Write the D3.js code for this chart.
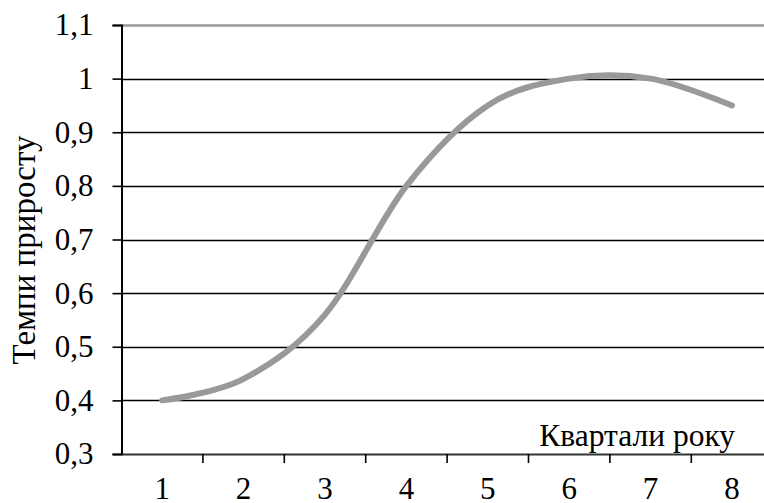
<!DOCTYPE html>
<html><head><meta charset="utf-8">
<script src="https://cdnjs.cloudflare.com/ajax/libs/d3/7.8.5/d3.min.js"></script>
<style>body{margin:0;background:#fff}svg{display:block}text{font-family:"Liberation Serif","Times New Roman",serif;fill:#000}</style>
</head><body><svg id="c" width="764" height="503"></svg>
<script>
const categories = ["1","2","3","4","5","6","7","8"];
const values = [0.40, 0.44, 0.56, 0.80, 0.95, 1.00, 1.00, 0.95];
const yTicks = [0.3,0.4,0.5,0.6,0.7,0.8,0.9,1.0,1.1];
const yTitle = "Темпи приросту";
const xTitle = "Квартали року";

(function(){
const svg = d3.select("#c");
const mL = 121.5, mR = 121.5 + 8*81.4, mT = 25, mB = 454;
const x = d3.scaleBand().domain(categories).range([mL, mR]);
const y = d3.scaleLinear().domain([0.3, 1.1]).range([mB, mT]);
const fmt = v => (Math.round(v*10)/10).toString().replace(".", ",");

// gridlines
svg.append("g").selectAll("line").data(yTicks.filter(v => v > 0.3)).join("line")
  .attr("x1", mL).attr("x2", 764)
  .attr("y1", d => Math.round(y(d)) + 0.5).attr("y2", d => Math.round(y(d)) + 0.5)
  .attr("stroke", d => d === 1.1 ? "#999" : "#000")
  .attr("stroke-width", d => d === 1.1 ? 2.5 : 1.6);

// y axis
const ya = svg.append("g").attr("transform", `translate(${mL},0)`)
  .call(d3.axisLeft(y).tickValues(yTicks).tickFormat(fmt).tickSize(9).tickPadding(19));
ya.select(".domain").attr("stroke", "#000").attr("stroke-width", 2);
ya.selectAll(".tick line").attr("stroke", "#000").attr("stroke-width", 1.6);
ya.selectAll(".tick text").attr("font-size", 31).attr("dy", "0.32em")
  .attr("font-family", '"Liberation Serif",serif');

// x axis
const xa = svg.append("g").attr("transform", `translate(0,${mB})`)
  .call(d3.axisBottom(x).tickSize(0).tickPadding(0));
xa.select(".domain").attr("stroke", "#333").attr("stroke-width", 2.2);
xa.selectAll(".tick text").attr("font-size", 31).attr("y", 45).attr("dy", 0)
  .attr("font-family", '"Liberation Serif",serif');
// tick marks between categories
svg.append("g").selectAll("line").data(categories.slice(1)).join("line")
  .attr("x1", d => x(d)).attr("x2", d => x(d))
  .attr("y1", mB).attr("y2", mB + 9)
  .attr("stroke", "#000").attr("stroke-width", 1.6);

// series line
const line = d3.line()
  .x((d, i) => x(categories[i]) + x.bandwidth()/2)
  .y(d => y(d))
  .curve(d3.curveCardinal.tension(0));
svg.append("path").datum(values).attr("d", line)
  .attr("fill", "none").attr("stroke", "#999").attr("stroke-width", 6)
  .attr("stroke-linecap", "round");

// titles
svg.append("text").attr("x", 735).attr("y", 446).attr("text-anchor", "end")
  .attr("font-size", 31.5).text(xTitle);
svg.append("text").attr("transform", "translate(35,250) rotate(-90)")
  .attr("text-anchor", "middle").attr("font-size", 33).text(yTitle);
})();
</script></body></html>
